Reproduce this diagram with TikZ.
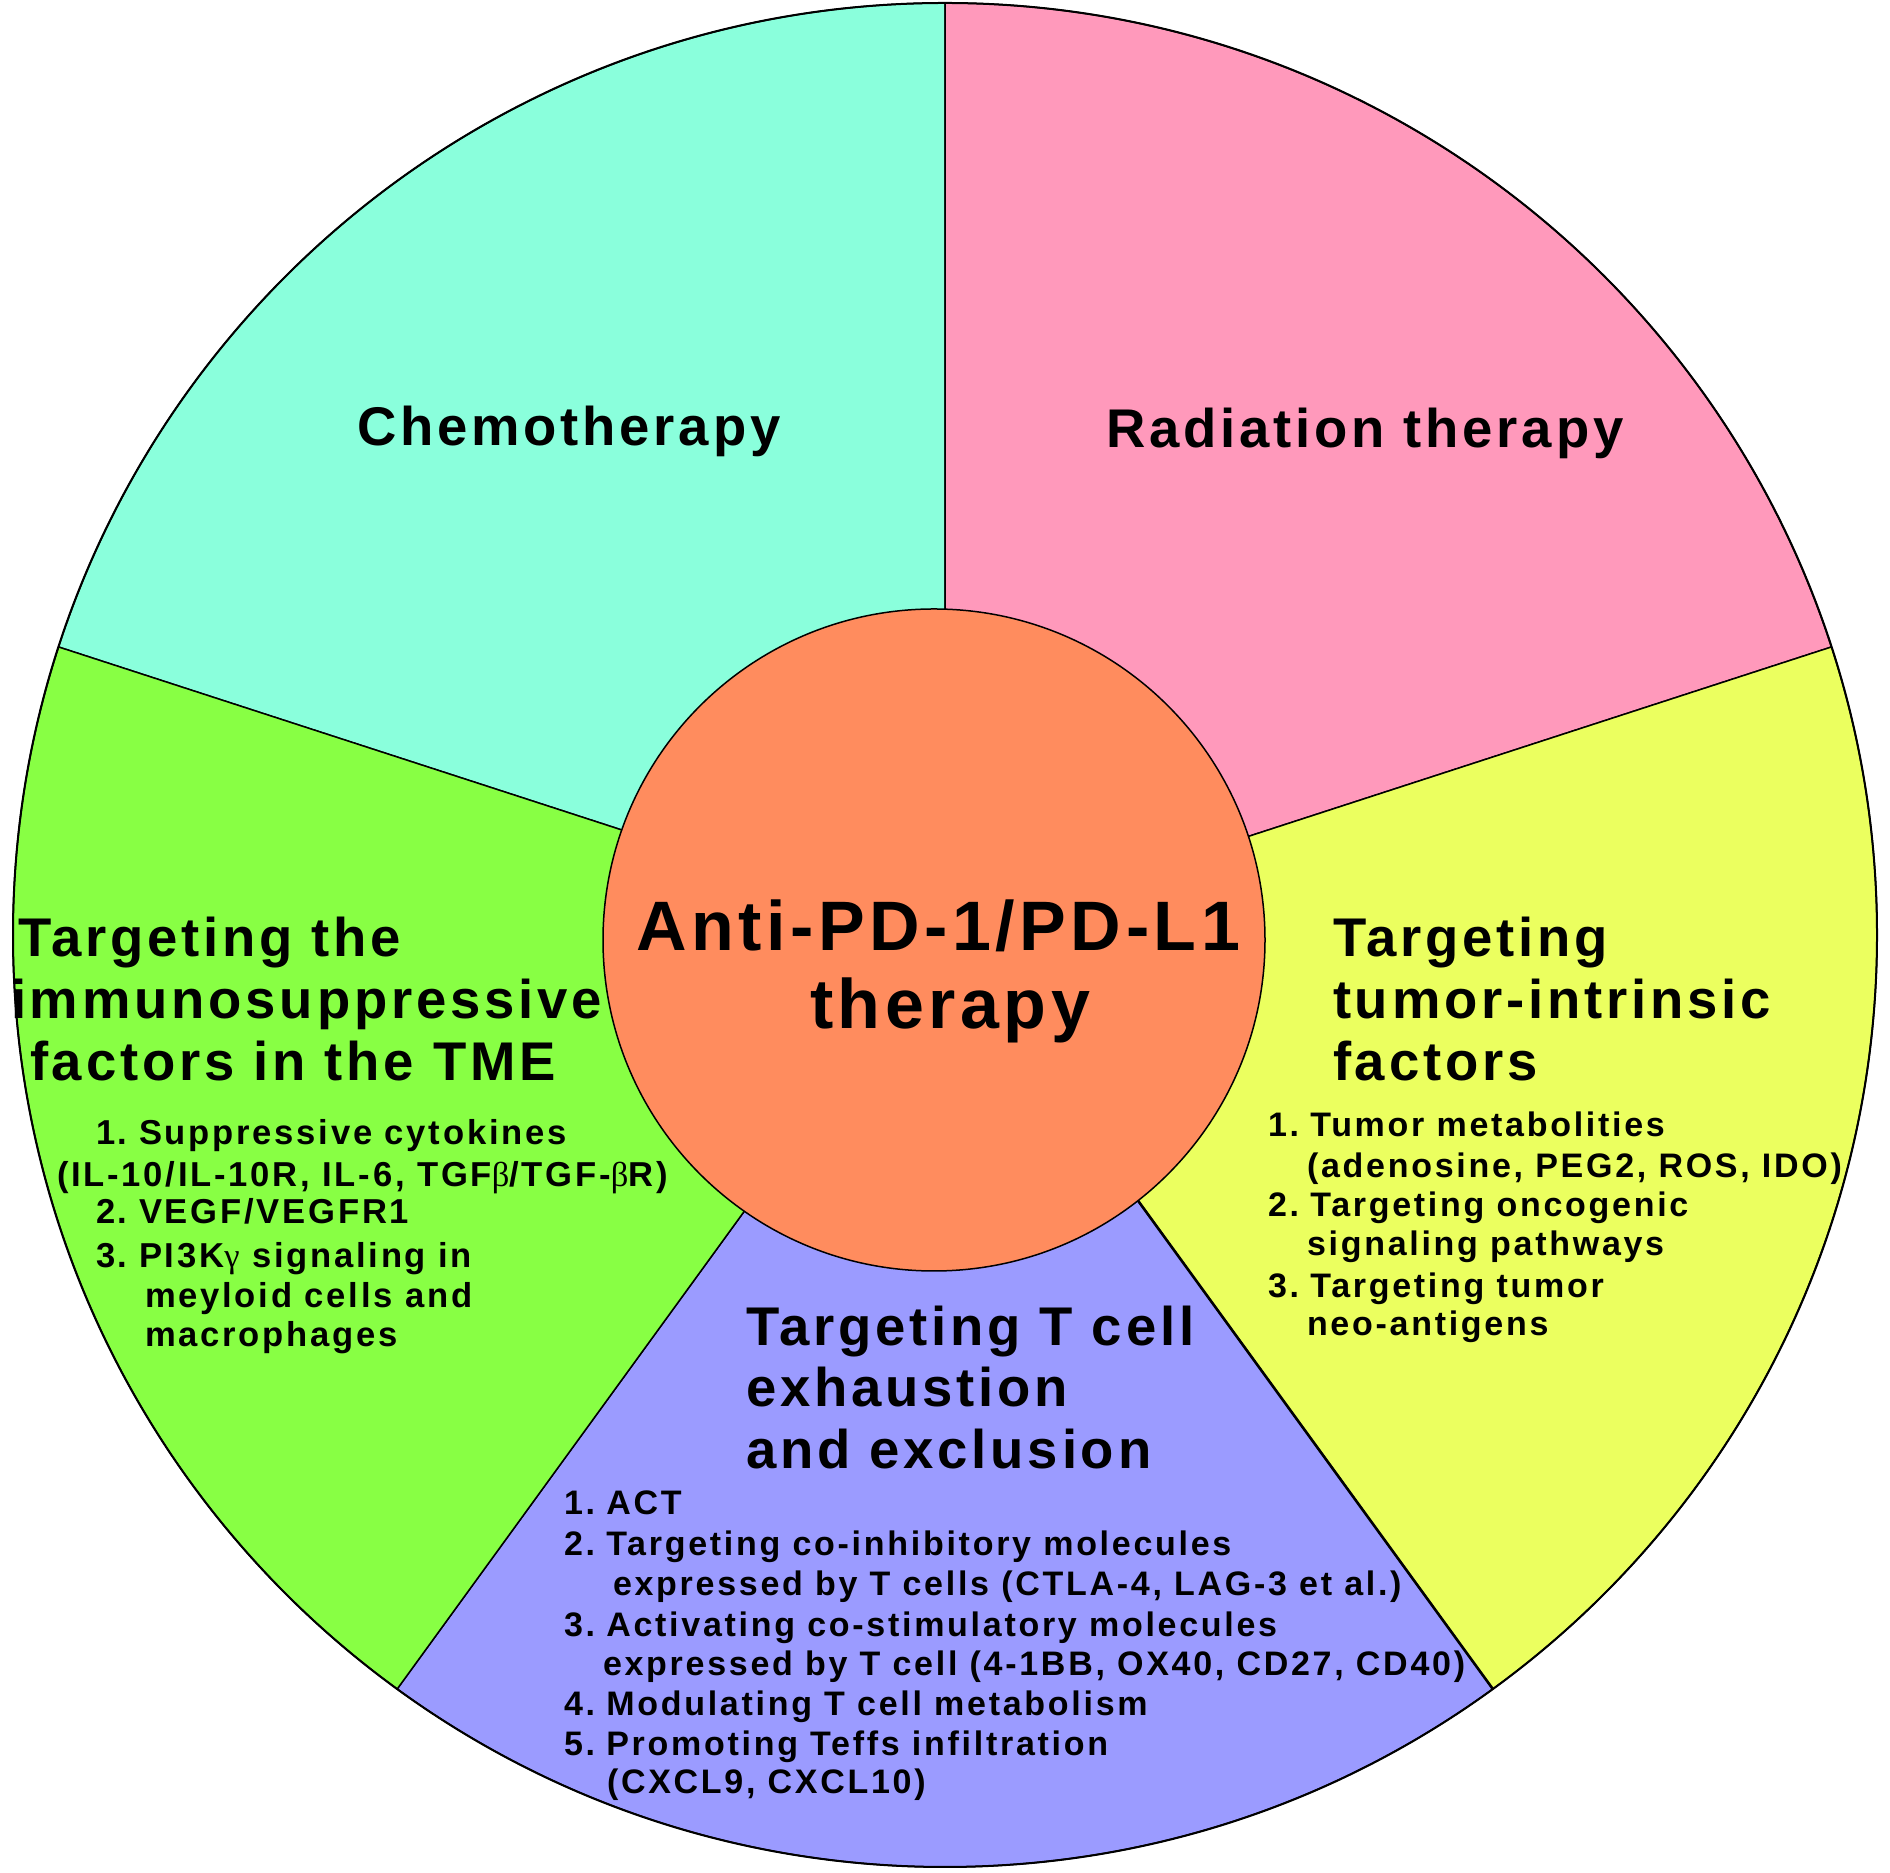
\documentclass[tikz,border=0pt]{standalone}
\usepackage{fontspec}
\setmainfont{Liberation Sans}
\newfontfamily\hdfont{Liberation Sans}[LetterSpace=7]
\newfontfamily\ctfont{Liberation Sans}[LetterSpace=6.5]
\newfontfamily\lsfont{Liberation Sans}[LetterSpace=8]
\newfontfamily\grk{Liberation Serif}
\newcommand{\nsp}{\hspace{-5pt}}
\definecolor{chemo}{RGB}{138,255,220}
\definecolor{radio}{RGB}{255,153,187}
\definecolor{yel}{RGB}{235,255,95}
\definecolor{blu}{RGB}{155,155,255}
\definecolor{grn}{RGB}{136,255,68}
\definecolor{org}{RGB}{255,140,94}
\tikzset{
  hd/.style={anchor=base west, inner sep=0pt, outer sep=0pt, font=\hdfont\bfseries\fontsize{54.5}{60}\selectfont},
  ct/.style={anchor=base west, inner sep=0pt, outer sep=0pt, font=\ctfont\bfseries\fontsize{70}{78}\selectfont},
  ls/.style={anchor=base west, inner sep=0pt, outer sep=0pt, font=\lsfont\bfseries\fontsize{34}{40}\selectfont},
  lsl/.style={ls, font=\lsfont\bfseries\fontsize{34.6}{40}\selectfont},
  sector/.style={draw=black, line width=1.5pt, line join=round},
}
\begin{document}
\begin{tikzpicture}[x=1pt,y=1pt]
\useasboundingbox (0,0) rectangle (1890,1873);
\fill[white] (0,0) rectangle (1890,1873);
\coordinate (C) at (945,938);
\def\R{932}
% sectors
\filldraw[sector, fill=chemo] (C) -- ++(90:\R) arc[start angle=90, end angle=162, radius=\R] -- cycle;
\filldraw[sector, fill=radio] (C) -- ++(18:\R) arc[start angle=18, end angle=90, radius=\R] -- cycle;
\filldraw[sector, fill=yel] (C) -- ++(-54:\R) arc[start angle=-54, end angle=18, radius=\R] -- cycle;
\filldraw[sector, fill=blu] (C) -- ++(234:\R) arc[start angle=234, end angle=306, radius=\R] -- cycle;
\filldraw[sector, fill=grn] (C) -- ++(162:\R) arc[start angle=162, end angle=234, radius=\R] -- cycle;
\draw[line width=2.6pt] (C) -- ++(-54:\R);
\draw[line width=2pt] (C) circle[radius=\R];
% centre circle
\filldraw[fill=org, draw=black, line width=1.5pt] (934,933) circle[radius=331];
% centre text
\node[ct] (ct1) at (636,922) {Anti-PD-1/PD-L1};
\node[ct] (ct2) at (810,844) {therapy};
% headers
\node[hd] (chemo) at (357,1427) {Chemotherapy};
\node[hd] (radio) at (1106,1425) {Radiation therapy};
\node[hd] (l1) at (18,916) {Targeting the};
\node[hd] (l2) at (11,854) {immunosuppressive};
\node[hd] (l3) at (30,792) {factors in the TME};
\node[hd] (r1) at (1333,916) {Targeting};
\node[hd] (r2) at (1333,854) {tumor-intrinsic};
\node[hd] (r3) at (1333,792) {factors};
\node[hd] (b1) at (746,527) {Targeting T cell};
\node[hd] (b2) at (746,466) {exhaustion};
\node[hd] (b3) at (746,404) {and exclusion};
% left list
\node[lsl] (la) at (96,728) {1. \nsp Suppressive cytokines};
\node[lsl] (lb) at (57,686) {(IL-10/IL-10R, IL-6, TGF{\grk\mdseries β}/TGF-{\grk\mdseries β}R)};
\node[lsl] (lc) at (96,649) {2. \nsp VEGF/VEGFR1};
\node[lsl] (ld) at (96,605) {3. \nsp PI3K{\grk\mdseries γ} signaling in};
\node[lsl] (le) at (145,565) {meyloid cells and};
\node[lsl] (lf) at (145,526) {macrophages};
% right list
\node[ls] (ra) at (1268,736) {1. \nsp Tumor metabolities};
\node[ls] (rb) at (1307,695) {(adenosine, PEG2, ROS, IDO)};
\node[ls] (rc) at (1268,656) {2. \nsp Targeting oncogenic};
\node[ls] (rd) at (1307,617) {signaling pathways};
\node[ls] (re) at (1268,575) {3. \nsp Targeting tumor};
\node[ls] (rf) at (1307,537) {neo-antigens};
% bottom list
\node[ls] (ba) at (564,358) {1. \nsp ACT};
\node[ls] (bb) at (564,317) {2. \nsp Targeting co-inhibitory molecules};
\node[ls] (bc) at (613,277) {expressed by T cells (CTLA-4, LAG-3 et al.)};
\node[ls] (bd) at (564,236) {3. \nsp Activating co-stimulatory molecules};
\node[ls] (be) at (603,197) {expressed by T cell (4-1BB, OX40, CD27, CD40)};
\node[ls] (bf) at (564,157) {4. \nsp Modulating T cell metabolism};
\node[ls] (bg) at (564,117) {5. \nsp Promoting Teffs infiltration};
\node[ls] (bh) at (607,79) {(CXCL9, CXCL10)};
\end{tikzpicture}
\end{document}
